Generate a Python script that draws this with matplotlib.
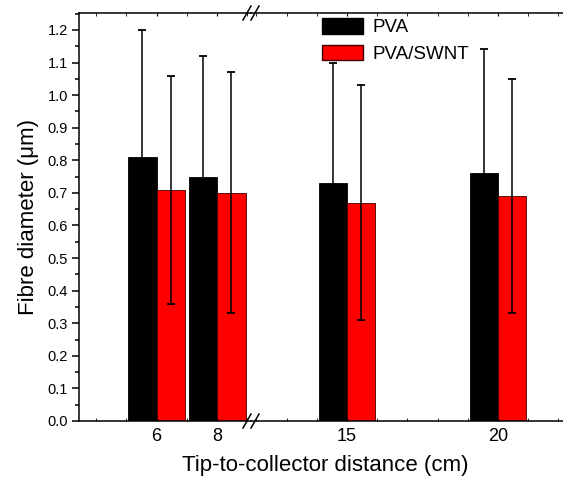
import matplotlib.pyplot as plt
from matplotlib.patches import Patch
from matplotlib.ticker import MultipleLocator

plt.rcParams['font.family'] = ['Liberation Sans', 'DejaVu Sans']

# fibre diameters vs tip-to-collector distance
distance = [6, 8, 15, 20]
pva = [0.81, 0.75, 0.73, 0.76]
pva_err = [0.39, 0.37, 0.37, 0.38]
swnt = [0.71, 0.70, 0.67, 0.69]
swnt_err = [0.35, 0.37, 0.36, 0.36]

W, H = 563, 479
def fx(px):
    return px / W
def fy(py):
    return 1 - py / H

fig = plt.figure(figsize=(W / 100, H / 100), dpi=100)
bottom, top = fy(421), fy(13)
ax1 = fig.add_axes([fx(79), bottom, fx(251) - fx(79), top - bottom])
ax2 = fig.add_axes([fx(251), bottom, 1 - fx(251), top - bottom])

width = 0.94
for ax in (ax1, ax2):
    xl = [d - width / 2 for d in distance]
    xr = [d + width / 2 for d in distance]
    ax.bar(xl, pva, width, color='black', edgecolor='black', linewidth=0.6)
    ax.bar(xr, swnt, width, color='#ff0000', edgecolor='#400000', linewidth=0.6)
    ax.errorbar(xl, pva, yerr=pva_err, fmt='none', ecolor='black',
                elinewidth=1.1, capsize=3, capthick=1.3)
    ax.errorbar(xr, swnt, yerr=swnt_err, fmt='none', ecolor='black',
                elinewidth=1.1, capsize=3, capthick=1.3)
    ax.set_ylim(0, 1.252)
    ax.spines['right'].set_visible(False)
    ax.xaxis.set_minor_locator(MultipleLocator(1))
    ax.tick_params(axis='x', which='both', direction='in', length=2,
                   top=True, labelsize=13, pad=5)
    for s in ax.spines.values():
        s.set_linewidth(1.1)

ax1.set_xlim(3.44, 9.12)
ax1.set_xticks([6, 8])
ax2.set_xlim(11.82, 22.15)
ax2.set_xticks([15, 20])
ax2.spines['left'].set_visible(False)
ax2.tick_params(axis='y', left=False, labelleft=False)

ax1.yaxis.set_major_locator(MultipleLocator(0.1))
ax1.yaxis.set_minor_locator(MultipleLocator(0.05))
ax1.set_yticklabels([f'{v:.1f}' for v in ax1.get_yticks()])
ax1.tick_params(axis='y', which='major', direction='out', length=5,
                width=1.1, labelsize=10.5, pad=3)
ax1.tick_params(axis='y', which='minor', direction='out', length=3, width=1.1)
ax1.set_ylim(0, 1.252)
ax1.set_ylabel('Fibre diameter (μm)', fontsize=16, labelpad=6)

fig.text(fx(325), fy(465), 'Tip-to-collector distance (cm)',
         ha='center', va='center', fontsize=16)

# break marks on the top and bottom axes
for yc in (421, 13):
    for xc in (247, 255):
        fig.add_artist(plt.Line2D([fx(xc - 4), fx(xc + 4)], [fy(yc + 7), fy(yc - 7)],
                                  color='black', linewidth=1.1))

handles = [Patch(facecolor='black', edgecolor='black', label='PVA'),
           Patch(facecolor='#ff0000', edgecolor='#400000', label='PVA/SWNT')]
fig.legend(handles=handles, loc='upper left', bbox_to_anchor=(fx(322), fy(18)),
           frameon=False, fontsize=13.5, borderpad=0, borderaxespad=0,
           handlelength=2.19, handleheight=0.91, handletextpad=0.48,
           labelspacing=0.45)

fig.savefig('out.png', dpi=100)
